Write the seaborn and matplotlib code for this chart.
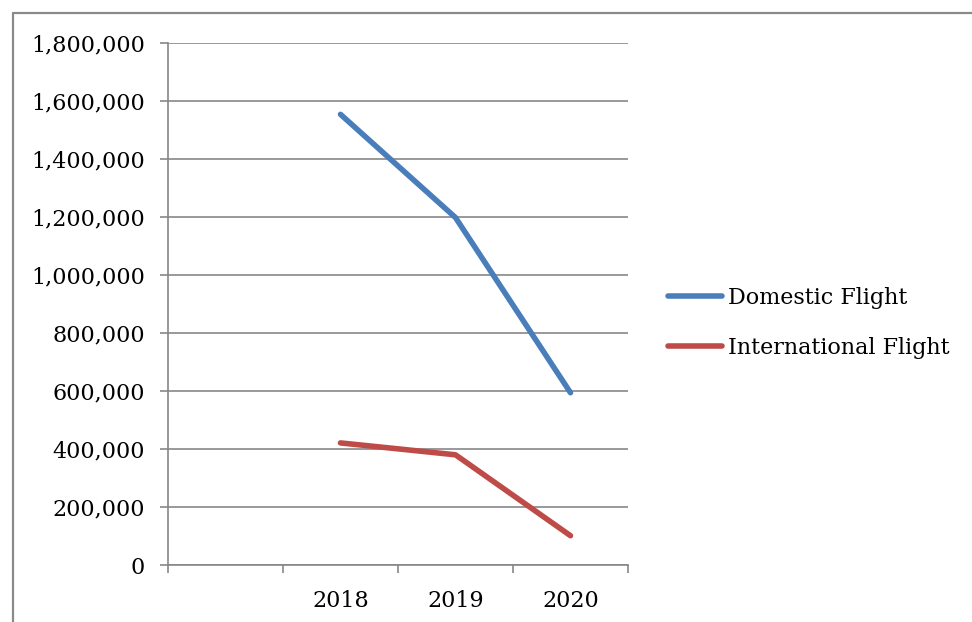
import matplotlib
matplotlib.use("Agg")
import matplotlib.pyplot as plt
from matplotlib.lines import Line2D
import seaborn as sns
import pandas as pd
import numpy as np

categories = ["", "2018", "2019", "2020"]
domestic = [np.nan, 1554000, 1198000, 594000]
international = [np.nan, 421000, 380000, 101000]
series_names = ["Domestic Flight", "International Flight"]
colors = ["#4A7EBB", "#BE4B48"]
y_ticks = [0, 200000, 400000, 600000, 800000, 1000000, 1200000, 1400000, 1600000, 1800000]

sns.set_theme(style="white")
plt.rcParams['font.family'] = ['DejaVu Serif']
FS = 16

pos = np.arange(len(categories)) + 0.5
df = pd.DataFrame({
    "pos": np.concatenate([pos, pos]),
    "value": domestic + international,
    "series": [series_names[0]] * len(categories) + [series_names[1]] * len(categories),
}).dropna()

W, H = 972, 622
fig = plt.figure(figsize=(W / 100, H / 100), dpi=100)
ax = fig.add_axes([168 / W, 1 - 565 / H, (628 - 168) / W, (565 - 43) / H])

sns.lineplot(data=df, x="pos", y="value", hue="series", palette=colors,
             linewidth=4.0, ax=ax, legend=False, sort=False)
for l in ax.lines:
    l.set_solid_capstyle("round")
    l.set_solid_joinstyle("round")

grid_c = "#878787"
ax.set_xlim(0, len(categories))
ax.set_ylim(0, 1800000)
ax.set_yticks(y_ticks)
ax.set_yticklabels([f"{v:,}" for v in y_ticks])
ax.yaxis.grid(True, color=grid_c, linewidth=1.2)
ax.set_axisbelow(True)
ax.set_xticks(pos)
ax.set_xticklabels(categories)
ax.set_xticks(np.arange(len(categories) + 1), minor=True)
ax.tick_params(axis="x", which="major", length=0, pad=18, labelsize=FS, colors="black")
ax.tick_params(axis="x", which="minor", length=8 * 0.72, width=1.2, color=grid_c, direction="out")
ax.tick_params(axis="y", length=8 * 0.72, width=1.2, color=grid_c, direction="out",
               pad=11, labelsize=FS, labelcolor="black")
ax.xaxis.set_tick_params(bottom=True, which="both")
ax.yaxis.set_tick_params(left=True)
for s in ["top", "right"]:
    ax.spines[s].set_visible(False)
for s in ["left", "bottom"]:
    ax.spines[s].set_color(grid_c)
    ax.spines[s].set_linewidth(1.2)
ax.set_xlabel("")
ax.set_ylabel("")

handles = [Line2D([0], [0], color=c, linewidth=4.0, solid_capstyle="round") for c in colors]
fig.legend(handles, series_names, loc="center left", bbox_to_anchor=(668 / W, 1 - 323 / H),
           frameon=False, fontsize=FS, handlelength=2.45, handletextpad=0.27,
           labelspacing=1.25, borderpad=0, borderaxespad=0, labelcolor="black")

fig.add_artist(Line2D([13 / W, 13 / W], [0, 1 - 13 / H], transform=fig.transFigure,
                      color="#8a8a8a", linewidth=1.6))
fig.add_artist(Line2D([13 / W, 1], [1 - 13 / H, 1 - 13 / H], transform=fig.transFigure,
                      color="#8a8a8a", linewidth=1.6))

fig.savefig("out.png", dpi=100, facecolor="white")
